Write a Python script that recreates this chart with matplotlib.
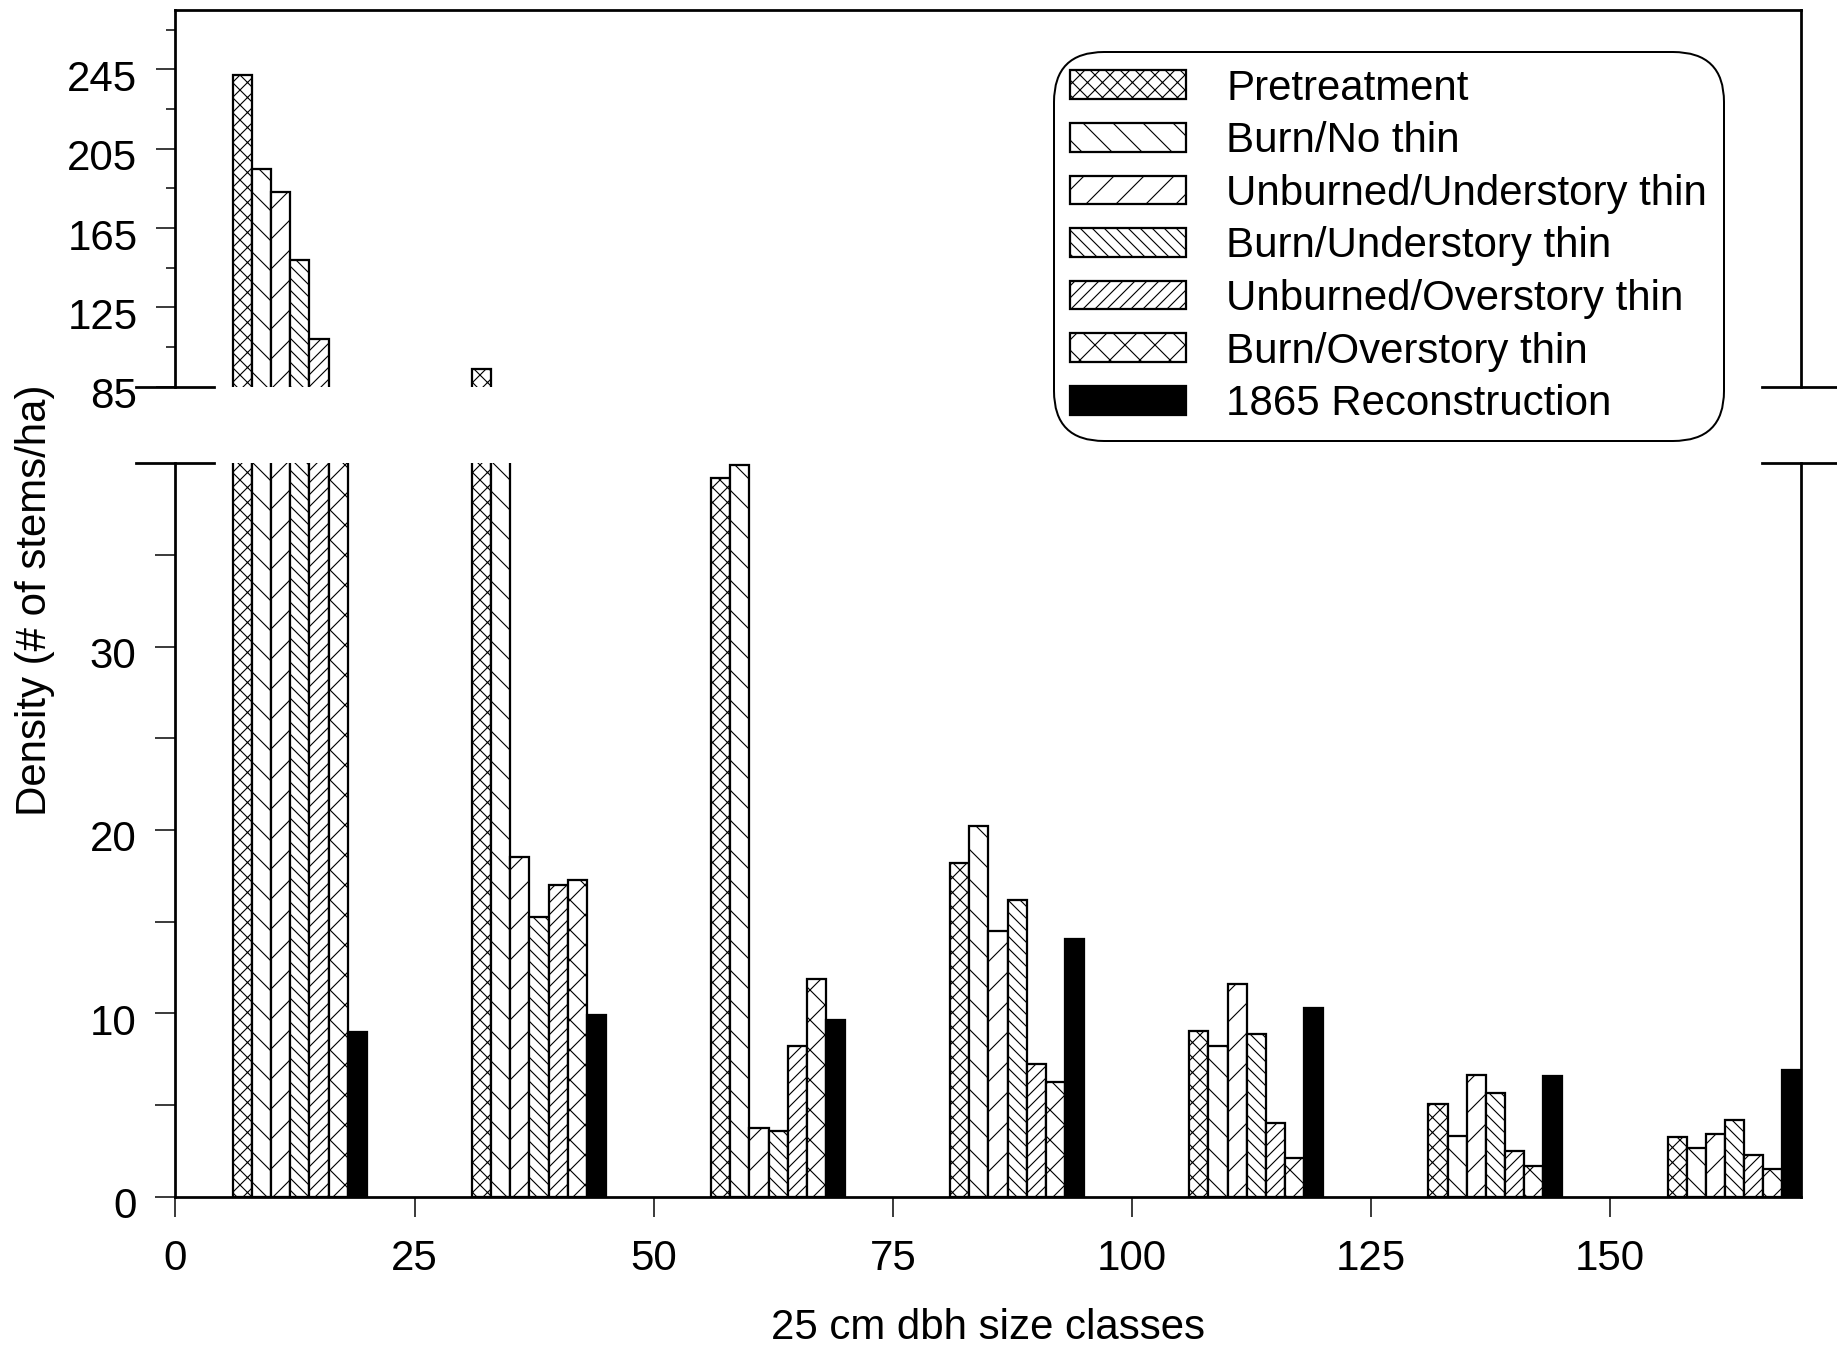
"""Stand density by 25 cm dbh size class, broken y axis."""

import matplotlib

matplotlib.use("Agg")
import matplotlib.pyplot as plt
from matplotlib.patches import Patch
from matplotlib.transforms import ScaledTranslation

# lower bound of each 25 cm size class
size_classes = [0, 25, 50, 75, 100, 125, 150]

series_names = [
    "Pretreatment",
    "Burn/No thin",
    "Unburned/Understory thin",
    "Burn/Understory thin",
    "Unburned/Overstory thin",
    "Burn/Overstory thin",
    "1865 Reconstruction",
]

# stems/ha (values between 40 and 85 fall in the axis break)
pretreatment = [242.4, 93.7, 39.2, 18.2, 9.05, 5.05, 3.25]
burn_no_thin = [194.8, 60.0, 39.9, 20.2, 8.2, 3.3, 2.65]
unburned_understory = [183.2, 18.5, 3.75, 14.5, 11.6, 6.65, 3.4]
burn_understory = [149.0, 15.25, 3.55, 16.2, 8.85, 5.65, 4.15]
unburned_overstory = [109.2, 17.0, 8.2, 7.25, 4.0, 2.5, 2.25]
burn_overstory = [65.0, 17.25, 11.85, 6.25, 2.1, 1.65, 1.5]
reconstruction_1865 = [9.0, 9.9, 9.65, 14.05, 10.3, 6.6, 6.9]

x_ticks = [0, 25, 50, 75, 100, 125, 150]
low_ticks = [0, 10, 20, 30]
low_minor = [5, 15, 25, 35]
up_ticks = [85, 125, 165, 205, 245]
up_minor = [105, 145, 185, 225, 265]

HATCHES = ["xxxx", "\\\\", "//", "\\\\\\\\\\", "/////", "xx", ""]

W, H, DPI = 1838, 1348, 180

plt.rcParams["font.family"] = ["Liberation Sans", "DejaVu Sans"]
plt.rcParams["font.size"] = 16.8
plt.rcParams["hatch.linewidth"] = 0.45
plt.rcParams["hatch.color"] = "black"

fig = plt.figure(figsize=(W / DPI, H / DPI), dpi=DPI)
left, right = 175.5 / W, 1801.5 / W
ax_low = fig.add_axes([left, 1 - 1196.5 / H, right - left, (1196.5 - 463.4) / H])
ax_up = fig.add_axes([left, 1 - 386.7 / H, right - left, (386.7 - 10) / H])

all_series = [
    pretreatment,
    burn_no_thin,
    unburned_understory,
    burn_understory,
    unburned_overstory,
    burn_overstory,
    reconstruction_1865,
]

bar_w = 2.0
first_offset = 6.0
for j, (vals, hatch) in enumerate(zip(all_series, HATCHES)):
    xs = [c + first_offset + bar_w * j + bar_w / 2 for c in size_classes]
    face = "black" if j == len(all_series) - 1 else "white"
    for ax in (ax_low, ax_up):
        ax.bar(xs, vals, width=bar_w, facecolor=face, edgecolor="black",
               hatch=hatch, linewidth=0.9, zorder=2)

for ax in (ax_low, ax_up):
    ax.set_xlim(0, 170)
    for side in ("left", "right", "top", "bottom"):
        ax.spines[side].set_linewidth(1.1)

ax_low.set_ylim(0, 40)
ax_up.set_ylim(85, 275)

ax_low.spines["top"].set_visible(False)
ax_up.spines["bottom"].set_visible(False)

ax_low.set_xticks(x_ticks)
ax_low.set_yticks(low_ticks)
ax_low.set_yticks(low_minor, minor=True)
ax_low.tick_params(axis="both", which="both", direction="out", length=8,
                   width=0.6, pad=7.6)
ax_low.tick_params(axis="x", pad=9)

ax_up.set_yticks(up_ticks)
ax_up.set_yticks(up_minor, minor=True)
ax_up.tick_params(axis="x", bottom=False, labelbottom=False)
ax_up.tick_params(axis="y", which="major", direction="out", length=7.6,
                  width=0.6, pad=7.6)
ax_up.tick_params(axis="y", which="minor", direction="out", length=3.6,
                  width=0.6)

# break marks on both sides of the gap
d = 39 / (1801.5 - 175.5)
for ax, y in ((ax_low, 1), (ax_up, 0)):
    for x in (0, 1):
        ax.plot([x - d, x + d], [y, y], transform=ax.transAxes, color="black",
                linewidth=1.1, clip_on=False, zorder=5)

# the original tick labels sit a little below their ticks
shift = ScaledTranslation(0, -6 / DPI, fig.dpi_scale_trans)
for ax in (ax_low, ax_up):
    for lab in ax.get_yticklabels():
        lab.set_transform(lab.get_transform() + shift)

fig.text(988.5 / W, 1 - 1328 / H, "25 cm dbh size classes", ha="center",
         va="center")
fig.text(35 / W, 1 - 600 / H, "Density (# of stems/ha)", rotation=90,
         ha="center", va="center")

handles = [
    Patch(facecolor="black" if i == len(series_names) - 1 else "white",
          edgecolor="black", hatch=h, linewidth=0.9)
    for i, h in enumerate(HATCHES)
]
leg = fig.legend(
    handles,
    series_names,
    loc="upper left",
    bbox_to_anchor=(1053.6 / W, 1 - 51.7 / H),
    bbox_transform=fig.transFigure,
    borderaxespad=0,
    frameon=True,
    framealpha=1,
    edgecolor="black",
    handlelength=2.76,
    handleheight=0.67,
    handletextpad=0.95,
    labelspacing=0.3,
    borderpad=0.4,
)
frame = leg.get_frame()
frame.set_boxstyle("round", pad=0, rounding_size=1.2)
frame.set_linewidth(0.8)

fig.savefig("out.png", dpi=DPI)
